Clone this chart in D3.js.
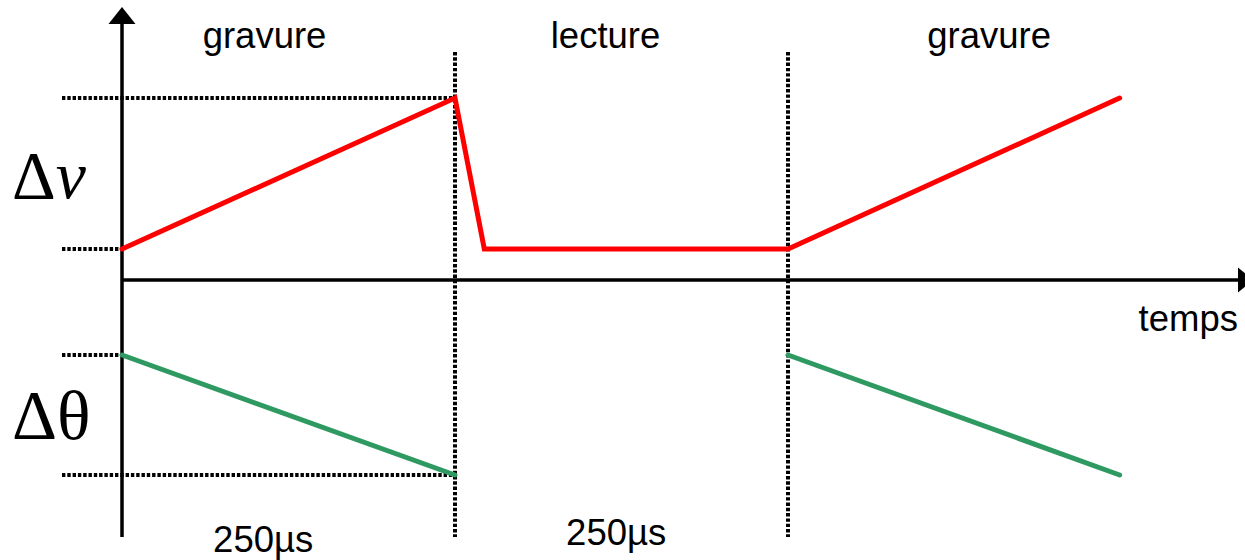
<!DOCTYPE html>
<html><head><meta charset="utf-8">
<script src="https://cdn.jsdelivr.net/npm/d3@7"></script>
<style>body{margin:0;background:#fff}svg{display:block}</style>
</head><body>
<script>
// time in µs, levels in arbitrary units (axis = 0)
const phases = ["gravure", "lecture", "gravure"];
const phaseCenters = [107, 363, 651];
const phaseBounds = [250, 500];
const durationLabels = ["250µs", "250µs"];
const durationPos = [106, 371];
const nuT = [0, 250, 272, 500, 749];
const nuV = [3.1, 18.2, 3.1, 3.1, 18.2];
const thetaSeg1T = [0, 250];
const thetaSeg1V = [-7.5, -19.5];
const thetaSeg2T = [500, 749];
const thetaSeg2V = [-7.5, -19.5];
const refLevelsNu = [3.1, 18.2];
const refLevelsTheta = [-7.5, -19.5];

const W = 1245, H = 560;
const svg = d3.select("body").append("svg").attr("width", W).attr("height", H);
const x = d3.scaleLinear().domain([0, 250]).range([122, 455]);
const y = d3.scaleLinear().domain([0, 10]).range([280, 180]);
const px = v => Math.round(v);

const dot = g => g.attr("stroke", "#000").attr("stroke-width", 4).attr("stroke-dasharray", "3.4,1.9");

// horizontal reference dotted lines
[[refLevelsNu[1], 250], [refLevelsNu[0], 0], [refLevelsTheta[0], 0], [refLevelsTheta[1], 250]].forEach(([v, t]) => {
  svg.append("line").call(dot).attr("x1", 62).attr("x2", x(t)).attr("y1", px(y(v))).attr("y2", px(y(v)));
});
// vertical phase separators
phaseBounds.forEach(t => {
  svg.append("line").call(dot).attr("x1", px(x(t))).attr("x2", px(x(t))).attr("y1", 52).attr("y2", 537);
});

// axes
svg.append("line").attr("x1", x(0)).attr("x2", x(0)).attr("y1", 22).attr("y2", 537).attr("stroke", "#000").attr("stroke-width", 3.5);
svg.append("path").attr("d", "M122,7 L108.5,24 L135.5,24 Z").attr("fill", "#000");
svg.append("line").attr("x1", x(0)).attr("x2", 1238).attr("y1", y(0)).attr("y2", y(0)).attr("stroke", "#000").attr("stroke-width", 3.5);
svg.append("path").attr("d", "M1253,280 L1238,267.5 L1238,292.5 Z").attr("fill", "#000");

const line = d3.line().x(d => x(d[0])).y(d => y(d[1]));
svg.append("path").datum(d3.zip(nuT, nuV)).attr("d", line)
  .attr("fill", "none").attr("stroke", "#ff0000").attr("stroke-width", 5)
  .attr("stroke-linejoin", "miter").attr("stroke-linecap", "round");
[[thetaSeg1T, thetaSeg1V], [thetaSeg2T, thetaSeg2V]].forEach(([t, v]) => {
  svg.append("path").datum(d3.zip(t, v)).attr("d", line)
    .attr("fill", "none").attr("stroke", "#2e9a62").attr("stroke-width", 5).attr("stroke-linecap", "round");
});

// texts
const sans = "Liberation Sans, Arial, sans-serif";
phases.forEach((p, i) => {
  svg.append("text").attr("x", x(phaseCenters[i])).attr("y", 48).attr("text-anchor", "middle")
    .attr("font-family", sans).attr("font-size", 36.5).text(p);
});
durationLabels.forEach((d, i) => {
  svg.append("text").attr("x", x(durationPos[i])).attr("y", [552, 545][i]).attr("text-anchor", "middle")
    .attr("font-family", sans).attr("font-size", 36.5).text(d);
});
svg.append("text").attr("x", 1238).attr("y", 331).attr("text-anchor", "end")
  .attr("font-family", sans).attr("font-size", 36.5).text("temps");
const serif = "Liberation Serif, Times New Roman, serif";
svg.append("text").attr("x", 12).attr("y", 198).attr("font-family", serif).attr("font-size", 68).text("Δ")
  .append("tspan").attr("font-style", "italic").text("ν");
svg.append("text").attr("x", 12).attr("y", 439).attr("font-family", serif).attr("font-size", 70).text("Δθ");
</script>
</body></html>
